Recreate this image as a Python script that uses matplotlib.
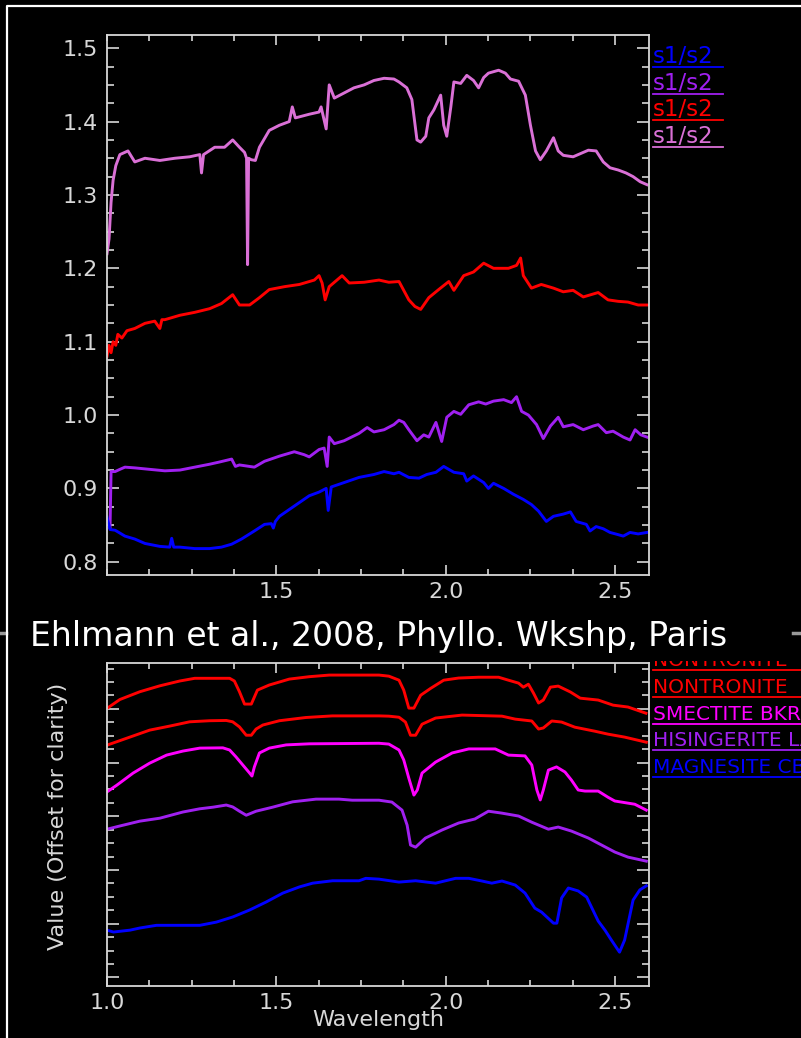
import numpy as np
import matplotlib
matplotlib.use('Agg')
import matplotlib.pyplot as plt
from matplotlib.lines import Line2D
from matplotlib.patches import Rectangle

# ---- top panel: ratio spectra (s1/s2) ----
pink_wl = [1.000, 1.006, 1.012, 1.018, 1.026, 1.038, 1.062, 1.082, 1.112, 1.156,
           1.200, 1.244, 1.274, 1.279, 1.285, 1.318, 1.347, 1.371, 1.391, 1.406,
           1.412, 1.415, 1.418, 1.426, 1.438, 1.450, 1.479, 1.509, 1.538, 1.547,
           1.556, 1.597, 1.626, 1.632, 1.647, 1.656, 1.671, 1.700, 1.729, 1.759,
           1.788, 1.818, 1.847, 1.862, 1.885, 1.900, 1.915, 1.926, 1.941, 1.950,
           1.965, 1.985, 1.994, 2.003, 2.015, 2.024, 2.044, 2.062, 2.082, 2.097,
           2.112, 2.126, 2.156, 2.176, 2.191, 2.215, 2.235, 2.250, 2.265, 2.279,
           2.297, 2.318, 2.332, 2.347, 2.376, 2.406, 2.421, 2.444, 2.465, 2.485,
           2.509, 2.532, 2.553, 2.574, 2.594]
pink_val = [1.22, 1.24, 1.29, 1.32, 1.34, 1.355, 1.36, 1.345, 1.35, 1.347,
            1.35, 1.352, 1.355, 1.33, 1.355, 1.365, 1.365, 1.375, 1.365, 1.358,
            1.35, 1.205, 1.35, 1.348, 1.347, 1.365, 1.388, 1.395, 1.40, 1.42,
            1.405, 1.41, 1.413, 1.42, 1.39, 1.45, 1.432, 1.439, 1.446, 1.45,
            1.456, 1.459, 1.458, 1.454, 1.446, 1.43, 1.375, 1.372, 1.38, 1.405,
            1.416, 1.436, 1.395, 1.38, 1.42, 1.454, 1.452, 1.463, 1.456, 1.446,
            1.46, 1.466, 1.47, 1.466, 1.458, 1.455, 1.436, 1.395, 1.36, 1.348,
            1.36, 1.378, 1.36, 1.354, 1.352, 1.358, 1.361, 1.36, 1.345, 1.337,
            1.334, 1.33, 1.325, 1.318, 1.314]

red_wl = [1.000, 1.006, 1.012, 1.018, 1.026, 1.032, 1.044, 1.059, 1.082, 1.112,
          1.141, 1.156, 1.162, 1.171, 1.215, 1.259, 1.303, 1.338, 1.371, 1.391,
          1.421, 1.450, 1.479, 1.524, 1.568, 1.612, 1.626, 1.635, 1.644, 1.656,
          1.694, 1.715, 1.759, 1.803, 1.832, 1.862, 1.891, 1.909, 1.926, 1.950,
          1.979, 2.009, 2.024, 2.053, 2.082, 2.112, 2.141, 2.185, 2.209, 2.221,
          2.229, 2.253, 2.282, 2.318, 2.347, 2.376, 2.406, 2.450, 2.479, 2.509,
          2.538, 2.568, 2.594]
red_val = [1.08, 1.095, 1.085, 1.10, 1.095, 1.11, 1.105, 1.115, 1.118, 1.125,
           1.128, 1.118, 1.13, 1.13, 1.136, 1.14, 1.145, 1.152, 1.164, 1.150,
           1.15, 1.16, 1.171, 1.175, 1.178, 1.184, 1.19, 1.18, 1.157, 1.175,
           1.19, 1.18, 1.181, 1.184, 1.181, 1.182, 1.157, 1.148, 1.144, 1.16,
           1.171, 1.182, 1.17, 1.19, 1.195, 1.207, 1.20, 1.20, 1.204, 1.214,
           1.19, 1.173, 1.178, 1.173, 1.168, 1.17, 1.161, 1.167, 1.157, 1.155,
           1.154, 1.15, 1.15]

purple_wl = [1.009, 1.012, 1.024, 1.038, 1.053, 1.082, 1.126, 1.171, 1.215, 1.259,
             1.303, 1.332, 1.368, 1.379, 1.391, 1.435, 1.465, 1.509, 1.553, 1.582,
             1.597, 1.626, 1.641, 1.650, 1.656, 1.671, 1.700, 1.744, 1.768, 1.788,
             1.818, 1.847, 1.862, 1.876, 1.891, 1.915, 1.935, 1.950, 1.971, 1.988,
             2.003, 2.024, 2.044, 2.068, 2.097, 2.118, 2.141, 2.171, 2.194, 2.209,
             2.224, 2.244, 2.268, 2.288, 2.309, 2.332, 2.347, 2.376, 2.406, 2.435,
             2.450, 2.474, 2.494, 2.524, 2.544, 2.559, 2.576, 2.594]
purple_val = [0.847, 0.923, 0.923, 0.926, 0.929, 0.928, 0.926, 0.924, 0.925, 0.929,
              0.933, 0.936, 0.94, 0.93, 0.932, 0.929, 0.937, 0.944, 0.950, 0.946,
              0.943, 0.953, 0.955, 0.93, 0.97, 0.961, 0.965, 0.975, 0.983, 0.977,
              0.980, 0.987, 0.993, 0.99, 0.98, 0.965, 0.973, 0.97, 0.99, 0.964,
              0.997, 1.005, 1.001, 1.014, 1.018, 1.015, 1.019, 1.021, 1.017, 1.025,
              1.005, 1.0, 0.987, 0.968, 0.985, 0.997, 0.984, 0.987, 0.980, 0.985,
              0.987, 0.976, 0.978, 0.970, 0.966, 0.980, 0.973, 0.97]

blue_wl = [1.000, 1.009, 1.024, 1.053, 1.082, 1.112, 1.156, 1.185, 1.191, 1.197,
           1.215, 1.259, 1.303, 1.338, 1.368, 1.397, 1.435, 1.465, 1.485, 1.491,
           1.497, 1.509, 1.553, 1.597, 1.626, 1.647, 1.653, 1.662, 1.700, 1.744,
           1.788, 1.818, 1.847, 1.862, 1.891, 1.921, 1.944, 1.971, 1.994, 2.024,
           2.053, 2.062, 2.082, 2.112, 2.126, 2.141, 2.171, 2.200, 2.229, 2.253,
           2.274, 2.297, 2.318, 2.347, 2.368, 2.385, 2.415, 2.426, 2.444, 2.465,
           2.485, 2.509, 2.524, 2.544, 2.568, 2.594]
blue_val = [0.861, 0.844, 0.843, 0.835, 0.831, 0.825, 0.821, 0.82, 0.832, 0.82,
            0.82, 0.818, 0.818, 0.82, 0.824, 0.831, 0.842, 0.851, 0.852, 0.846,
            0.855, 0.862, 0.876, 0.89, 0.895, 0.9, 0.87, 0.902, 0.908, 0.915,
            0.919, 0.923, 0.920, 0.922, 0.915, 0.914, 0.919, 0.922, 0.93, 0.922,
            0.92, 0.91, 0.917, 0.908, 0.9, 0.907, 0.9, 0.892, 0.885, 0.878,
            0.869, 0.855, 0.862, 0.865, 0.868, 0.855, 0.851, 0.842, 0.848, 0.845,
            0.84, 0.837, 0.835, 0.84, 0.838, 0.84]

top_labels = ['s1/s2', 's1/s2', 's1/s2', 's1/s2']
top_colors = ['#0000ff', '#a020f0', '#ff0000', '#da70d6']

# ---- bottom panel: library spectra (offset) ----
non1_wl = [1.000, 1.038, 1.097, 1.156, 1.215, 1.259, 1.362, 1.376, 1.391, 1.406,
           1.426, 1.444, 1.479, 1.538, 1.597, 1.656, 1.744, 1.803, 1.832, 1.862,
           1.876, 1.891, 1.906, 1.926, 1.956, 1.994, 2.038, 2.097, 2.156, 2.185,
           2.215, 2.229, 2.244, 2.259, 2.274, 2.288, 2.309, 2.332, 2.368, 2.397,
           2.450, 2.494, 2.538, 2.591]
non1_val = [1.002, 1.035, 1.064, 1.086, 1.104, 1.114, 1.114, 1.104, 1.064, 1.018,
            1.018, 1.070, 1.089, 1.111, 1.120, 1.126, 1.126, 1.126, 1.122, 1.107,
            1.070, 1.003, 1.003, 1.051, 1.077, 1.107, 1.115, 1.118, 1.118, 1.107,
            1.096, 1.081, 1.092, 1.059, 1.022, 1.033, 1.081, 1.085, 1.063, 1.040,
            1.033, 1.014, 1.007, 0.984]

non2_wl = [1.000, 1.126, 1.185, 1.244, 1.303, 1.352, 1.371, 1.391, 1.411, 1.426,
           1.440, 1.460, 1.509, 1.587, 1.665, 1.803, 1.832, 1.862, 1.881, 1.896,
           1.911, 1.930, 1.970, 2.048, 2.166, 2.205, 2.254, 2.274, 2.288, 2.313,
           2.342, 2.381, 2.440, 2.479, 2.528, 2.592]
non2_val = [0.865, 0.921, 0.936, 0.952, 0.956, 0.957, 0.952, 0.933, 0.902, 0.902,
            0.925, 0.940, 0.956, 0.968, 0.974, 0.974, 0.973, 0.969, 0.951, 0.902,
            0.902, 0.943, 0.966, 0.977, 0.973, 0.962, 0.955, 0.925, 0.929, 0.955,
            0.951, 0.932, 0.917, 0.906, 0.895, 0.876]

smec_wl = [1.000, 1.029, 1.077, 1.126, 1.176, 1.224, 1.274, 1.342, 1.362, 1.381,
           1.401, 1.421, 1.428, 1.435, 1.450, 1.479, 1.529, 1.597, 1.803, 1.832,
           1.862, 1.876, 1.891, 1.906, 1.916, 1.930, 1.970, 2.019, 2.068, 2.146,
           2.185, 2.234, 2.254, 2.269, 2.279, 2.288, 2.303, 2.327, 2.352, 2.371,
           2.391, 2.411, 2.450, 2.479, 2.499, 2.558, 2.592]
smec_val = [0.691, 0.716, 0.761, 0.798, 0.828, 0.843, 0.854, 0.855, 0.847, 0.821,
            0.791, 0.761, 0.750, 0.784, 0.836, 0.854, 0.866, 0.870, 0.872, 0.869,
            0.847, 0.810, 0.742, 0.679, 0.698, 0.761, 0.802, 0.836, 0.851, 0.851,
            0.828, 0.825, 0.791, 0.698, 0.661, 0.698, 0.772, 0.784, 0.765, 0.735,
            0.698, 0.694, 0.694, 0.671, 0.657, 0.645, 0.623]

hisi_wl = [1.000, 1.038, 1.097, 1.156, 1.224, 1.274, 1.313, 1.352, 1.371, 1.391,
           1.411, 1.440, 1.489, 1.548, 1.617, 1.685, 1.724, 1.803, 1.841, 1.871,
           1.886, 1.896, 1.911, 1.940, 1.989, 2.038, 2.086, 2.126, 2.165, 2.215,
           2.254, 2.303, 2.332, 2.371, 2.421, 2.460, 2.499, 2.538, 2.592]
hisi_val = [0.552, 0.564, 0.582, 0.593, 0.616, 0.628, 0.634, 0.642, 0.635, 0.619,
            0.604, 0.619, 0.634, 0.654, 0.664, 0.664, 0.660, 0.660, 0.653, 0.623,
            0.567, 0.493, 0.485, 0.519, 0.549, 0.575, 0.590, 0.619, 0.612, 0.601,
            0.578, 0.552, 0.560, 0.545, 0.519, 0.493, 0.467, 0.448, 0.433]

magn_wl = [1.000, 1.019, 1.068, 1.097, 1.146, 1.274, 1.323, 1.371, 1.421, 1.470,
           1.519, 1.568, 1.607, 1.666, 1.744, 1.764, 1.803, 1.862, 1.911, 1.970,
           2.029, 2.068, 2.107, 2.136, 2.166, 2.205, 2.234, 2.263, 2.283, 2.318,
           2.328, 2.342, 2.362, 2.391, 2.416, 2.450, 2.470, 2.489, 2.513, 2.528,
           2.553, 2.573, 2.592]
magn_val = [0.176, 0.169, 0.176, 0.184, 0.194, 0.194, 0.206, 0.225, 0.251, 0.281,
            0.314, 0.337, 0.351, 0.360, 0.360, 0.369, 0.366, 0.355, 0.360, 0.351,
            0.369, 0.369, 0.359, 0.351, 0.359, 0.344, 0.314, 0.258, 0.243, 0.202,
            0.202, 0.296, 0.333, 0.322, 0.299, 0.210, 0.176, 0.139, 0.094, 0.139,
            0.288, 0.326, 0.341]

# names run off the right edge of the slide, as in the original
bottom_labels = ['NONTRONITE  NG-1', 'NONTRONITE  SWa-1', 'SMECTITE BKR1',
                 'HISINGERITE LA', 'MAGNESITE CB']
bottom_colors = ['#ff0000', '#ff0000', '#ff00ff', '#a020f0', '#0000ff']

title = 'Ehlmann et al., 2008, Phyllo. Wkshp, Paris'

AXIS_COLOR = '#d8d8d8'
W, H = 801, 1038


def fx(px):
    return px / W


def fy(py):
    return 1 - py / H


def style_axes(ax):
    ax.set_facecolor('black')
    for s in ax.spines.values():
        s.set_color(AXIS_COLOR)
        s.set_linewidth(1.3)
    ax.tick_params(which='both', direction='in', colors=AXIS_COLOR, top=True, right=True,
                   width=1.2, labelsize=16, labelcolor=AXIS_COLOR)
    ax.tick_params(axis='y', which='major', length=8.5, pad=6.5)
    ax.tick_params(axis='y', which='minor', length=5)
    ax.tick_params(axis='x', which='major', length=7, pad=5)
    ax.tick_params(axis='x', which='minor', length=4.5)


fig = plt.figure(figsize=(W / 100, H / 100), dpi=100, facecolor='black')

ax1 = fig.add_axes([fx(107), fy(575), 542 / W, 540 / H])
style_axes(ax1)
ax1.plot(pink_wl, pink_val, color=top_colors[3], lw=2.1)
ax1.plot(red_wl, red_val, color=top_colors[2], lw=2.1)
ax1.plot(purple_wl, purple_val, color=top_colors[1], lw=2.1)
ax1.plot(blue_wl, blue_val, color=top_colors[0], lw=2.1)
ax1.set_xlim(1.0, 2.6)
ax1.set_ylim(0.782, 1.518)
ax1.set_xticks([1.5, 2.0, 2.5])
ax1.set_xticks(np.arange(1.0, 2.61, 0.125), minor=True)
ax1.set_yticks(np.arange(0.8, 1.51, 0.1))
ax1.set_yticks(np.arange(0.8, 1.51, 0.025), minor=True)
ax1.yaxis.set_major_formatter(plt.FormatStrFormatter('%.1f'))

# top legend: text with coloured underline
for i, (lab, col) in enumerate(zip(top_labels, top_colors)):
    yline = 67 + i * 26.7
    fig.text(fx(653), fy(yline - 4), lab, color=col, fontsize=16.5, ha='left', va='baseline')
    fig.add_artist(Line2D([fx(653), fx(723)], [fy(yline), fy(yline)], color=col, lw=1.3))

ax2 = fig.add_axes([fx(107), fy(986), 542 / W, 323 / H])
style_axes(ax2)
ax2.plot(non1_wl, non1_val, color=bottom_colors[0], lw=2.1)
ax2.plot(non2_wl, non2_val, color=bottom_colors[1], lw=2.1)
ax2.plot(smec_wl, smec_val, color=bottom_colors[2], lw=2.1)
ax2.plot(hisi_wl, hisi_val, color=bottom_colors[3], lw=2.1)
ax2.plot(magn_wl, magn_val, color=bottom_colors[4], lw=2.1)
ax2.set_xlim(1.0, 2.6)
ax2.set_ylim(-0.032, 1.171)
ax2.set_xticks([1.0, 1.5, 2.0, 2.5])
ax2.set_xticks(np.arange(1.0, 2.61, 0.125), minor=True)
ax2.xaxis.set_major_formatter(plt.FormatStrFormatter('%.1f'))
ax2.set_yticks(np.arange(0, 1.01, 0.2))
ax2.set_yticks(np.arange(0, 1.16, 0.05), minor=True)
ax2.tick_params(axis='y', labelleft=False)
ax2.set_xlabel('Wavelength', fontsize=16, color=AXIS_COLOR)
ax2.xaxis.set_label_coords(0.5, -0.074)
fig.text(fx(58), fy(816), 'Value (Offset for clarity)', rotation=90, ha='center', va='center',
         fontsize=16, color=AXIS_COLOR)

for i, (lab, col) in enumerate(zip(bottom_labels, bottom_colors)):
    yline = 670 + i * 26.8
    fig.text(fx(653), fy(yline - 4), lab, color=col, fontsize=14.5, ha='left', va='baseline', zorder=1)
    fig.add_artist(Line2D([fx(653), 1.0], [fy(yline), fy(yline)], color=col, lw=1.3, zorder=1))

# slide text box over the top of the lower figure
fig.add_artist(Rectangle((fx(12), fy(661)), fx(795) - fx(12), (661 - 604) / H,
                         transform=fig.transFigure, facecolor='black', edgecolor='none', zorder=2))
fig.text(fx(30), fy(646), title, color='white', fontsize=23.85, ha='left', va='baseline', zorder=3)
fig.add_artist(Line2D([fx(0), fx(6)], [fy(633), fy(633)], color='#999999', lw=2.5, zorder=3))
fig.add_artist(Line2D([fx(793), fx(801)], [fy(633), fy(633)], color='#999999', lw=2.5, zorder=3))

# slide frame
fig.add_artist(Line2D([fx(7), fx(7), 1.0], [0.0, fy(6), fy(6)], color='white', lw=1.6, zorder=4))

fig.savefig('out.png', dpi=100, facecolor='black')
